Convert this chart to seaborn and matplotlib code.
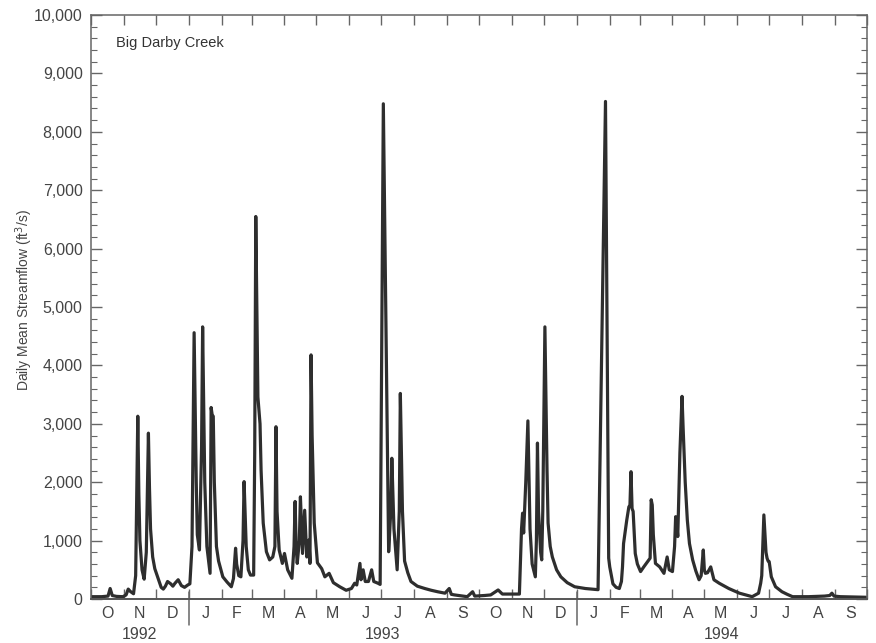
import numpy as np
import pandas as pd
import matplotlib
matplotlib.use("Agg")
import matplotlib.pyplot as plt
import matplotlib.dates as mdates
import matplotlib.transforms as mtransforms
from matplotlib.ticker import MultipleLocator, FuncFormatter, FixedLocator, FixedFormatter
import seaborn as sns

# ---------------- data ----------------
record_start = "1992-10-01"
# day number since 1 Oct 1992
day = [0, 10, 16, 18, 20, 24, 30, 33, 35, 37, 40, 42, 44, 45, 46, 48, 50, 52, 54, 55,
       56, 58, 60, 63, 66, 68, 70, 72, 75, 77, 79, 82, 85, 88, 91, 93,
       95, 97, 99, 100, 102, 104, 105, 107, 109, 112, 113, 114, 115, 116, 118, 120,
       124, 128, 132, 134, 136, 137, 139, 141, 143, 144, 146, 148, 150, 153, 154, 155,
       157, 159, 160, 162, 165, 168, 171, 173, 174, 175, 177, 180, 182, 185, 189, 191,
       192, 193, 194, 196, 197, 199, 201, 203, 205, 206, 207, 208, 210, 213, 217, 220,
       224, 228, 234, 240, 245, 248, 250, 253, 254, 256, 258, 261, 264, 266, 270, 272,
       275, 280, 282, 283, 285, 288, 290, 291, 293, 295, 298, 301, 307, 314, 320,
       326, 333, 337, 339, 342, 350, 354, 359, 361, 370, 376, 383, 387, 395, 403,
       405, 406, 407, 409, 411, 413, 415, 418, 419, 420, 421, 423, 424, 425, 427, 429,
       430, 432, 434, 438, 442, 448, 455, 465, 477, 484, 487, 488, 491, 494, 497, 499,
       500, 501, 504, 506, 507, 508, 509, 510, 512, 514, 517, 520, 524, 526, 527, 528,
       529, 531, 535, 539, 542, 544, 547, 549, 550, 551, 552, 554, 556, 557, 559, 561,
       563, 566, 569, 572, 574, 576, 577, 578, 580, 583, 586, 591, 600, 610, 616, 622,
       628, 630, 631, 633, 635, 636, 637, 638, 640, 644, 650, 655, 660, 675, 690, 695,
       697, 699, 705, 729]
flow = [40, 40, 50, 180, 60, 45, 40, 70, 170, 130, 90, 400, 3130, 1800, 1000, 500, 340, 800, 2840, 1900,
        1200, 720, 520, 360, 200, 170, 220, 300, 260, 220, 270, 330, 230, 200, 240, 260,
        900, 4560, 2000, 1100, 840, 2600, 4660, 2000, 900, 440, 3280, 3150, 3130, 2000, 900, 650,
        380, 290, 210, 350, 870, 600, 400, 380, 1000, 2010, 900, 500, 410, 410, 2500, 6550,
        3460, 3000, 2200, 1300, 810, 670, 720, 900, 2950, 1500, 840, 610, 780, 500, 355, 900,
        1670, 900, 610, 1000, 1750, 780, 1520, 720, 1010, 610, 4180, 2800, 1300, 620, 520, 380,
        440, 280, 210, 150, 180, 270, 240, 610, 330, 500, 300, 300, 500, 300, 270, 250,
        8480, 810, 1500, 2410, 1200, 500, 1500, 3520, 1500, 650, 450, 300, 220, 180, 150,
        125, 100, 180, 80, 70, 50, 40, 125, 50, 60, 70, 155, 85, 85, 85,
        1200, 1470, 1130, 2000, 3050, 1200, 600, 380, 1000, 2670, 1500, 800, 670, 1500, 4660, 2200,
        1300, 900, 720, 500, 380, 280, 210, 180, 160, 8520, 700, 550, 260, 200, 180, 300,
        550, 950, 1350, 1580, 1600, 2180, 1550, 1500, 780, 600, 470, 550, 650, 700, 1700, 1610,
        1100, 610, 550, 440, 720, 500, 470, 900, 1410, 1300, 1070, 2500, 3470, 2950, 2000, 1350,
        950, 670, 480, 330, 400, 840, 500, 440, 450, 550, 330, 270, 180, 100, 70, 40,
        100, 270, 400, 1440, 800, 700, 650, 640, 380, 210, 125, 80, 40, 40, 50, 60,
        100, 50, 40, 30]

month_letters = ["O", "N", "D", "J", "F", "M", "A", "M", "J", "J", "A", "S",
                 "O", "N", "D", "J", "F", "M", "A", "M", "J", "J", "A", "S"]
year_labels = ["1992", "1993", "1994"]
year_spans = [("1992-10-01", "1993-01-01"), ("1993-01-01", "1994-01-01"), ("1994-01-01", "1994-10-01")]
year_breaks = ["1993-01-01", "1994-01-01"]
station = "Big Darby Creek"
y_label = "Daily Mean Streamflow (ft$^3$/s)"

df = pd.DataFrame({
    "date": pd.Timestamp(record_start) + pd.to_timedelta(day, unit="D"),
    "flow": flow,
})

# ---------------- figure ----------------
sns.set_theme(style="white")
plt.rcParams["font.family"] = ["Liberation Sans", "DejaVu Sans"]
text_col = "#444444"
axis_col = "#666666"

fig = plt.figure(figsize=(8.76, 6.43), dpi=100)
ax = fig.add_axes([0.1039, 0.0684, 0.8858, 0.9082])

sns.lineplot(data=df, x="date", y="flow", ax=ax, color="#2e2e2e", linewidth=2.3)

start = pd.Timestamp("1992-10-01")
end = pd.Timestamp("1994-10-01")
ax.set_xlim(start, end)
ax.set_ylim(0, 10000)

# y axis
ax.yaxis.set_major_locator(MultipleLocator(1000))
ax.yaxis.set_minor_locator(MultipleLocator(200))
ax.yaxis.set_major_formatter(FuncFormatter(lambda v, p: f"{v:,.0f}"))
ax.tick_params(axis="y", which="major", direction="in", length=8, width=1,
               color=axis_col, left=True, right=True, labelsize=11.5,
               labelcolor=text_col, pad=6)
ax.tick_params(axis="y", which="minor", direction="in", length=4, width=0.8,
               color=axis_col, left=True, right=True)

# x axis: month boundaries as ticks, month letters centred in each month
month_starts = pd.date_range(start, end, freq="MS")
mid = month_starts[:-1] + (month_starts[1:] - month_starts[:-1]) / 2
ax.xaxis.set_major_locator(FixedLocator(mdates.date2num(month_starts)))
ax.xaxis.set_major_formatter(FixedFormatter([""] * len(month_starts)))
ax.xaxis.set_minor_locator(FixedLocator(mdates.date2num(mid)))
ax.xaxis.set_minor_formatter(FixedFormatter(month_letters))
ax.tick_params(axis="x", which="major", direction="in", length=7, width=1,
               color=axis_col, top=True, bottom=True)
ax.tick_params(axis="x", which="minor", length=0, labelsize=11.5,
               labelcolor=text_col, pad=5)

for s in ax.spines.values():
    s.set_color(axis_col)
    s.set_linewidth(1.1)
ax.spines["bottom"].set_color("#555555")
ax.spines["bottom"].set_linewidth(1.4)

trans = mtransforms.blended_transform_factory(ax.transData, ax.transAxes)
for yb in year_breaks:
    xb = mdates.date2num(pd.Timestamp(yb))
    ax.plot([xb, xb], [0.012, -0.045], transform=trans, color=axis_col,
            linewidth=1.1, clip_on=False)
for lab, (a, b) in zip(year_labels, year_spans):
    xm = mdates.date2num(pd.Timestamp(a) + (pd.Timestamp(b) - pd.Timestamp(a)) / 2)
    ax.text(xm, -0.061, lab, transform=trans, ha="center", va="center",
            fontsize=11.5, color=text_col)

ax.text(0.032, 0.952, station, transform=ax.transAxes, ha="left", va="center",
        fontsize=10.5, color="#333333")
ax.set_xlabel("")
ax.set_ylabel(y_label, fontsize=10, color=text_col)
ax.yaxis.set_label_coords(-0.072, 0.512)

fig.savefig("out.png", dpi=100, facecolor="white")
